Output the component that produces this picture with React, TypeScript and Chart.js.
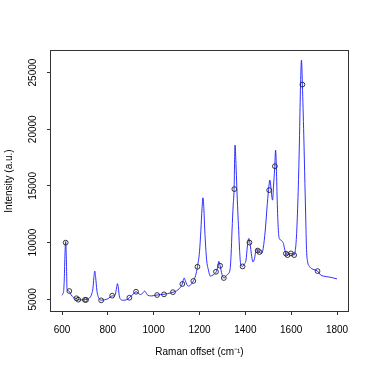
import React, { useEffect, useRef } from "react";
import { Chart, registerables } from "chart.js";

Chart.register(...registerables);

// Spectrum (Raman offset in cm-1, intensity a.u.)
const lineX = [
  600, 604, 607, 610, 613, 616, 619, 622, 627, 632, 640, 650, 663, 671, 685, 703, 715, 725, 730, 735,
  739, 743, 747, 752, 758, 765, 771, 785, 800, 819, 828, 833, 838, 842, 846, 850, 856, 865, 880, 894,
  905, 915, 923, 932, 942, 950, 956, 961, 966, 975, 990, 1015, 1030, 1044, 1060, 1084, 1100, 1112, 1120, 1125,
  1129, 1133, 1138, 1145, 1151, 1160, 1174, 1183, 1191, 1200, 1206, 1211, 1215, 1219, 1223, 1231, 1239, 1247, 1255, 1265,
  1273, 1280, 1284, 1290, 1298, 1306, 1314, 1322, 1333, 1338, 1342, 1347, 1351, 1355, 1359, 1363, 1367, 1371, 1375, 1379,
  1387, 1395, 1403, 1409, 1415, 1420, 1428, 1433, 1440, 1446, 1450, 1454, 1462, 1471, 1478, 1487, 1496, 1503, 1507, 1511,
  1516, 1519, 1523, 1528, 1532, 1535, 1539, 1544, 1548, 1553, 1559, 1566, 1572, 1577, 1584, 1590, 1598, 1606, 1613, 1618,
  1623, 1629, 1635, 1641, 1645, 1649, 1655, 1660, 1664, 1667, 1672, 1680, 1690, 1700, 1715, 1728, 1740, 1755, 1770, 1785,
  1800,
];
const lineY = [
  5350, 5500, 5700, 6800, 9000, 10100, 8600, 5900, 5750, 5700, 5400, 5150, 5080, 4970, 4950, 4980, 5050, 5250, 5500, 5970,
  6900, 7490, 6900, 5820, 5230, 5000, 4920, 4950, 5050, 5300, 5300, 5450, 6000, 6380, 6000, 5300, 5000, 4920, 4950, 5140,
  5350, 5550, 5680, 5550, 5420, 5500, 5650, 5730, 5600, 5350, 5300, 5380, 5420, 5440, 5500, 5620, 5750, 5950, 6150, 6350,
  6700, 6880, 6650, 6300, 6170, 6250, 6640, 7100, 7870, 9200, 11100, 13000, 13950, 13000, 11100, 8500, 7580, 7050, 7100, 7250,
  7430, 7900, 8350, 7960, 7200, 6880, 7000, 7200, 7600, 9000, 11100, 13300, 14720, 18600, 17000, 14800, 12800, 11100, 9300, 8200,
  7900, 8100, 8460, 9700, 10370, 9990, 8750, 8300, 8600, 9300, 9480, 9300, 9170, 9050, 9500, 11100, 13460, 15000, 15520, 15000,
  14000, 13750, 15000, 16500, 18150, 17000, 13750, 11100, 10370, 10250, 10160, 9930, 9400, 9030, 8900, 8980, 9050, 8980, 8900, 9300,
  10500, 13500, 18000, 24000, 26100, 23900, 19500, 15200, 11800, 9400, 8300, 7900, 7700, 7620, 7490, 7150, 7050, 7000, 6950, 6880,
  6800,
];

// Marked points (open circles)
const markX = [
  616, 632, 663, 671, 700, 705, 771, 819, 894, 923, 1015, 1045, 1084, 1125, 1173, 1191,
  1272, 1290, 1306, 1352, 1388, 1418, 1454, 1462, 1504, 1529, 1577, 1584, 1599, 1613, 1649, 1715,
];
const markY = [
  10000, 5730, 5090, 4970, 4950, 4950, 4910, 5320, 5140, 5670, 5380, 5440, 5630, 6350, 6620, 7870,
  7430, 7960, 6880, 14720, 7900, 10010, 9300, 9170, 14630, 16740, 9030, 8900, 9050, 8900, 23940, 7490,
];

const xTicks = [600, 800, 1000, 1200, 1400, 1600, 1800];
const yTicks = [5000, 10000, 15000, 20000, 25000];

const xTitle = "Raman offset (cm\u207B\u00B9)";
const yTitle = "Intensity (a.u.)";

const FONT = "'Liberation Sans', Arial, Helvetica, sans-serif";

export default function App() {
  const ref = useRef<HTMLCanvasElement | null>(null);

  useEffect(() => {
    const canvas = ref.current;
    if (!canvas) return;

    const boxPlugin = {
      id: "box",
      afterDraw(chart: any) {
        const { ctx, chartArea } = chart;
        ctx.save();
        ctx.strokeStyle = "#333";
        ctx.lineWidth = 1;
        ctx.strokeRect(
          Math.round(chartArea.left) - 0.5,
          Math.round(chartArea.top) - 0.5,
          Math.round(chartArea.right - chartArea.left) + 1,
          Math.round(chartArea.bottom - chartArea.top) + 1
        );
        ctx.restore();
      },
    };

    const chart = new Chart(canvas, {
      type: "scatter",
      data: {
        datasets: [
          {
            label: "marks",
            data: markX.map((x, i) => ({ x, y: markY[i] })),
            showLine: false,
            pointStyle: "circle",
            pointRadius: 2.4,
            pointBorderWidth: 0.9,
            pointBorderColor: "#222",
            pointBackgroundColor: "rgba(0,0,0,0)",
          },
          {
            label: "spectrum",
            data: lineX.map((x, i) => ({ x, y: lineY[i] })),
            showLine: true,
            borderColor: "#1a1aff",
            borderWidth: 0.9,
            pointRadius: 0,
            cubicInterpolationMode: "monotone",
            fill: false,
          },
        ],
      },
      options: {
        animation: false,
        responsive: false,
        maintainAspectRatio: false,
        events: [],
        layout: { padding: { top: 51, right: 26, left: 0, bottom: 0 } },
        plugins: {
          legend: { display: false },
          tooltip: { enabled: false },
          title: { display: false },
        },
        scales: {
          x: {
            type: "linear",
            min: 552,
            max: 1848,
            afterBuildTicks: (s: any) => {
              s.ticks = xTicks.map((v) => ({ value: v }));
            },
            afterFit: (s: any) => {
              s.height = 63;
            },
            grid: {
              drawOnChartArea: false,
              drawTicks: true,
              tickLength: 4,
              tickColor: "#333",
              tickWidth: 1,
            },
            border: { display: false },
            ticks: {
              autoSkip: false,
              maxRotation: 0,
              minRotation: 0,
              padding: 9,
              color: "#000",
              font: { family: FONT, size: 10 },
              callback: (v: any) => String(v),
            },
            title: {
              display: true,
              text: xTitle,
              color: "#000",
              font: { family: FONT, size: 10 },
              padding: { top: 0, bottom: 16 },
            },
          },
          y: {
            type: "linear",
            min: 3970,
            max: 26900,
            afterBuildTicks: (s: any) => {
              s.ticks = yTicks.map((v) => ({ value: v }));
            },
            afterFit: (s: any) => {
              s.width = 51;
            },
            grid: {
              drawOnChartArea: false,
              drawTicks: true,
              tickLength: 4,
              tickColor: "#333",
              tickWidth: 1,
            },
            border: { display: false },
            ticks: {
              autoSkip: false,
              minRotation: 90,
              maxRotation: 90,
              crossAlign: "center",
              padding: 0,
              color: "#000",
              font: { family: FONT, size: 10 },
              callback: (v: any) => String(v),
            },
            title: {
              display: true,
              text: yTitle,
              color: "#000",
              font: { family: FONT, size: 10 },
              padding: { top: 3, bottom: 0 },
            },
          },
        },
      },
      plugins: [boxPlugin],
    } as any);

    return () => {
      chart.destroy();
    };
  }, []);

  return (
    <div style={{ position: "fixed", left: 0, top: 0, width: 374, height: 374, background: "#fff" }}>
      <canvas ref={ref} width={374} height={374} style={{ width: 374, height: 374, display: "block" }} />
    </div>
  );
}
